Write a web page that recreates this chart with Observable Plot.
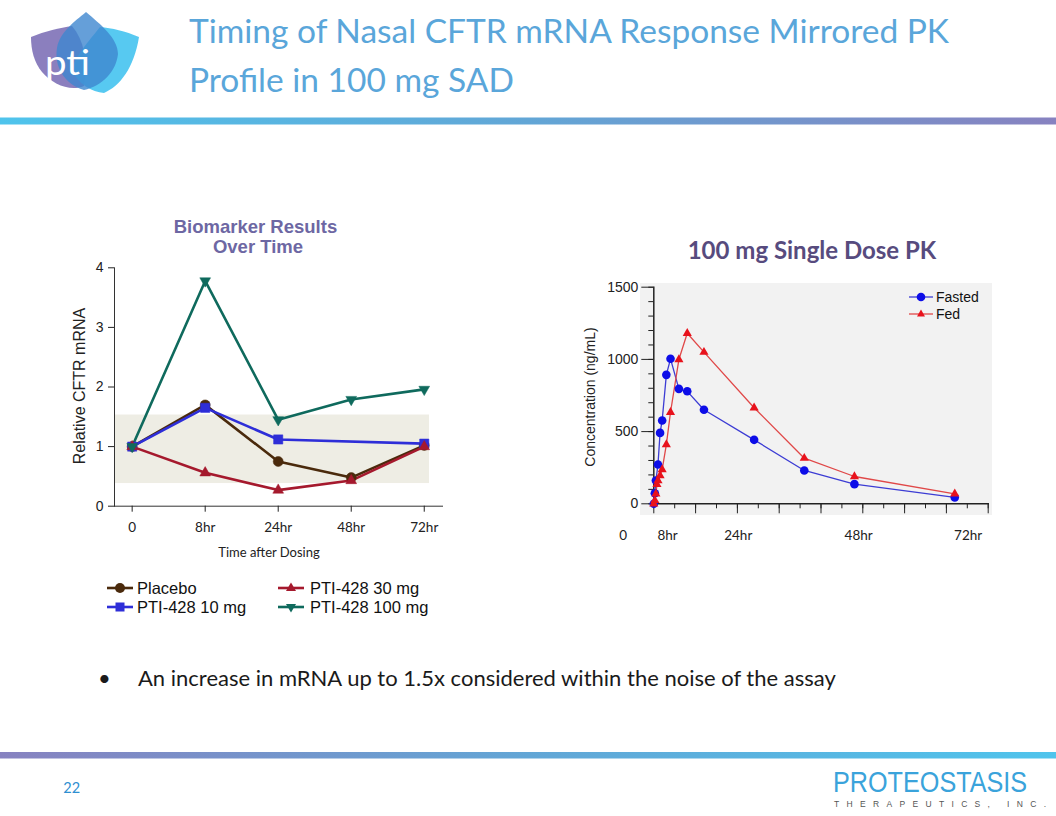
<!DOCTYPE html>
<html><head><meta charset="utf-8">
<script src="https://cdn.jsdelivr.net/npm/d3@7"></script>
<script src="https://cdn.jsdelivr.net/npm/@observablehq/plot@0.6"></script>
<style>
body{margin:0;background:#fff;}
#slide{position:relative;width:1056px;height:816px;overflow:hidden;background:#fff;}
.abs{position:absolute;}
#overlay{position:absolute;left:0;top:0;z-index:2;pointer-events:none;}
</style></head><body>
<div id="slide">
  <div id="bio" class="abs" style="left:60px;top:255px;"></div>
  <div id="pk" class="abs" style="left:640px;top:283px;"></div>
</div>
<script>
// ---------- Data: biomarker (left chart) ----------
const bioTimes = ["0", "8hr", "24hr", "48hr", "72hr"];
const placebo  = [1.00, 1.70, 0.75, 0.48, 1.02];
const pti10    = [1.00, 1.65, 1.12, null, 1.05];
const pti30    = [1.00, 0.56, 0.27, 0.43, 1.00];
const pti100   = [1.00, 3.78, 1.45, 1.79, 1.96];
const bioSeriesNames = ["Placebo", "PTI-428 10 mg", "PTI-428 30 mg", "PTI-428 100 mg"];
const noiseBand = [0.38, 1.53];
const bioYTicks = [0, 1, 2, 3, 4];

// ---------- Data: PK (right chart) ----------
const fastedHours = [0, 0.25, 0.5, 1, 1.5, 2, 3, 4, 6, 8, 12, 24, 36, 48, 72];
const fastedConc  = [0, 73, 161, 272, 491, 577, 893, 1004, 796, 779, 651, 443, 231, 136, 44];
const fedHours    = [0, 0.25, 0.5, 0.75, 1, 1.5, 2, 3, 4, 6, 8, 12, 24, 36, 48, 72];
const fedConc     = [0, 23, 69, 134, 161, 196, 237, 410, 634, 999, 1181, 1050, 665, 316, 189, 69];
const pkTickLabels = ["0", "8hr", "24hr", "48hr", "72hr"];
const pkTickPos    = [-7.3, 3.3, 20.2, 49, 75.2];
const pkYMajor = [0, 500, 1000, 1500];

// ---------- styles ----------
const bioColors = {"Placebo": "#4a2a0c", "PTI-428 10 mg": "#2e2ed8", "PTI-428 30 mg": "#a5192d", "PTI-428 100 mg": "#0f6a5d"};
const sqrt3 = Math.sqrt(3);
const triangleDown = {draw(ctx, size) {
  const y = -Math.sqrt(size / (sqrt3 * 3));
  ctx.moveTo(0, -y * 2); ctx.lineTo(-sqrt3 * y, y); ctx.lineTo(sqrt3 * y, y); ctx.closePath();
}};
const bioSymbols = {"Placebo": ["circle", 5], "PTI-428 10 mg": ["square", 5.2], "PTI-428 30 mg": ["triangle", 4.0], "PTI-428 100 mg": [triangleDown, 4.0]};

const bioValues = [placebo, pti10, pti30, pti100];
const bioRows = [];
bioSeriesNames.forEach((s, k) => bioValues[k].forEach((v, i) => { if (v != null) bioRows.push({s, i, v}); }));

const bioMarks = [
  Plot.rect([noiseBand], {y1: d => d[0], y2: d => d[1], fill: "#eeede4", insetLeft: 1, insetRight: 13}),
  Plot.frame({anchor: "left", stroke: "#333"}),
  Plot.frame({anchor: "bottom", stroke: "#333"}),
  Plot.axisY({ticks: bioYTicks, tickFormat: d => String(d), tickSize: 6, tickPadding: 5, fontSize: 14, label: null}),
  Plot.axisX({ticks: [0, 1, 2, 3, 4], tickFormat: i => bioTimes[i], tickSize: 6, tickPadding: 10, fontSize: 13.5, fontFamily: "Lato", label: null}),
];
for (const s of bioSeriesNames) {
  const rows = bioRows.filter(d => d.s === s);
  bioMarks.push(Plot.line(rows, {x: "i", y: "v", stroke: bioColors[s], strokeWidth: 2.6}));
}
for (const s of bioSeriesNames) {
  const rows = bioRows.filter(d => d.s === s);
  bioMarks.push(Plot.dot(rows, {x: "i", y: "v", fill: bioColors[s], stroke: bioColors[s], strokeWidth: 0.5, symbol: bioSymbols[s][0], r: bioSymbols[s][1]}));
}

const bio = Plot.plot({
  width: 400, height: 310,
  marginLeft: 54, marginRight: 18, marginTop: 12.3, marginBottom: 59.3,
  x: {domain: [-0.242, 4.25]},
  y: {domain: [0, 4]},
  style: {overflow: "visible", fontFamily: "'Liberation Sans', Arial, sans-serif", color: "#222", background: "transparent"},
  marks: bioMarks
});
document.getElementById("bio").appendChild(bio);

// ---------- PK plot ----------
const fasted = fastedHours.map((h, i) => ({h, c: fastedConc[i]}));
const fed = fedHours.map((h, i) => ({h, c: fedConc[i]}));
const minorY = d3.range(0, 1501, 100);
const minorX = d3.range(0, 81, 5);
const majorX = d3.range(0, 81, 10);

const pk = Plot.plot({
  width: 352, height: 232,
  marginLeft: 13.3, marginRight: 4.3, marginTop: 3.7, marginBottom: 11.7,
  x: {domain: [0, 80]},
  y: {domain: [0, 1500]},
  style: {overflow: "visible", background: "#f2f2f2", fontFamily: "'Liberation Sans', Arial, sans-serif", color: "#222"},
  marks: [
    Plot.axisY({ticks: minorY, tickSize: 5, tickFormat: () => "", label: null}),
    Plot.axisY({ticks: pkYMajor, tickFormat: d => String(d), tickSize: 12, tickPadding: 3.5, fontSize: 14, label: null}),
    Plot.axisX({ticks: minorX, tickSize: 5, tickFormat: () => "", label: null}),
    Plot.axisX({ticks: majorX, tickSize: 10, tickFormat: () => "", label: null}),
    Plot.axisX({ticks: pkTickPos, tickSize: 0, tickPadding: 27, tickFormat: d => pkTickLabels[pkTickPos.indexOf(d)], fontSize: 13.5, fontFamily: "Lato", label: null}),
    Plot.frame({anchor: "left", stroke: "#222", strokeWidth: 1.5}),
    Plot.frame({anchor: "bottom", stroke: "#222", strokeWidth: 1.5}),
    Plot.line(fasted, {x: "h", y: "c", stroke: "#3c3cd4", strokeWidth: 1.3}),
    Plot.line(fed, {x: "h", y: "c", stroke: "#e04848", strokeWidth: 1.3}),
    Plot.dot(fasted, {x: "h", y: "c", fill: "#0d0de8", r: 4.3}),
    Plot.dot(fed, {x: "h", y: "c", fill: "#e8121c", symbol: "triangle", r: 3.4}),
  ]
});
document.getElementById("pk").appendChild(pk);

// ---------- Static slide decoration & text ----------
const ARIAL = "'Liberation Sans', Arial, sans-serif";
const overlay = `
<svg id="overlay" width="1056" height="816" xmlns="http://www.w3.org/2000/svg">
  <defs>
    <linearGradient id="gTop" x1="0" x2="1" y1="0" y2="0"><stop offset="0" stop-color="#4fc4ec"/><stop offset="0.5" stop-color="#62a6d6"/><stop offset="1" stop-color="#8782c0"/></linearGradient>
    <linearGradient id="gBot" x1="0" x2="1" y1="0" y2="0"><stop offset="0" stop-color="#8782c0"/><stop offset="0.5" stop-color="#62a6d6"/><stop offset="1" stop-color="#4fc4ec"/></linearGradient>
  </defs>
  <rect x="0" y="117.5" width="1056" height="7" fill="url(#gTop)"/>
  <rect x="0" y="752" width="1056" height="6.5" fill="url(#gBot)"/>
  <!-- pti logo -->
  <g>
    <path d="M31,37 C45,31 60,28 72,26 C84,40 88,60 84,86 C70,92 52,84 42,72 C34,62 31,50 31,37 Z" fill="#8578bb" opacity="0.95"/>
    <path d="M139,37 C125,31 112,28 100,27 C88,42 74,58 72,70 C78,84 92,92 104,93 C120,86 134,68 139,37 Z" fill="#45c3f0" opacity="0.9"/>
    <path d="M86,12 C74,22 60,32 57,48 C54,66 64,84 84,90 C102,86 116,72 118,54 C118,38 100,24 86,12 Z" fill="#3f87cf" opacity="0.8"/>
    <text x="45" y="75" font-family="Lato" font-size="34" fill="#fff" textLength="45" lengthAdjust="spacingAndGlyphs">pti</text>
  </g>
  <!-- slide title -->
  <text font-family="Lato" font-size="33.5" fill="#5aa6da">
    <tspan x="189" y="43.3">Timing of Nasal CFTR mRNA Response Mirrored PK</tspan>
    <tspan x="189" y="92">Profile in 100 mg SAD</tspan>
  </text>
  <!-- left chart title -->
  <text font-family="${ARIAL}" font-weight="bold" font-size="18.5" fill="#6d67a3" text-anchor="middle">
    <tspan x="258" y="232.7">Biomarker Results</tspan>
    <tspan x="258" y="253.3">Over Time</tspan>
  </text>
  <text transform="translate(79,386) rotate(-90)" font-family="${ARIAL}" font-size="16" fill="#222" text-anchor="middle" dominant-baseline="central">Relative CFTR mRNA</text>
  <text x="269" y="557" font-family="Lato" font-size="13" fill="#222" text-anchor="middle">Time after Dosing</text>
  <!-- left legend -->
  <g font-family="${ARIAL}" font-size="16.5" fill="#111">
    <line x1="107" x2="133" y1="588" y2="588" stroke="${bioColors["Placebo"]}" stroke-width="2.6"/>
    <circle cx="120" cy="588" r="5" fill="${bioColors["Placebo"]}"/>
    <text x="137" y="594">Placebo</text>
    <line x1="107" x2="133" y1="607" y2="607" stroke="${bioColors["PTI-428 10 mg"]}" stroke-width="2.6"/>
    <rect x="115.5" y="602.5" width="9" height="9" fill="${bioColors["PTI-428 10 mg"]}"/>
    <text x="137" y="613">PTI-428 10 mg</text>
    <line x1="278" x2="304" y1="588" y2="588" stroke="${bioColors["PTI-428 30 mg"]}" stroke-width="2.6"/>
    <path d="M291,582.5 L296,591 L286,591 Z" fill="${bioColors["PTI-428 30 mg"]}"/>
    <text x="310" y="594">PTI-428 30 mg</text>
    <line x1="278" x2="304" y1="607" y2="607" stroke="${bioColors["PTI-428 100 mg"]}" stroke-width="2.6"/>
    <path d="M291,612.5 L296,604 L286,604 Z" fill="${bioColors["PTI-428 100 mg"]}"/>
    <text x="310" y="613">PTI-428 100 mg</text>
  </g>
  <!-- right chart title & labels -->
  <text x="812" y="259.3" font-family="Lato" font-weight="bold" font-size="24" fill="#574b7e" text-anchor="middle">100 mg Single Dose PK</text>
  <text transform="translate(590,397) rotate(-90)" font-family="${ARIAL}" font-size="14" fill="#222" text-anchor="middle" dominant-baseline="central">Concentration (ng/mL)</text>
  <g font-family="${ARIAL}" font-size="14" fill="#111">
    <line x1="909" x2="933" y1="297" y2="297" stroke="#3c3cd4" stroke-width="1.3"/>
    <circle cx="921" cy="297" r="4.3" fill="#0d0de8"/>
    <text x="936" y="302">Fasted</text>
    <line x1="909" x2="933" y1="314" y2="314" stroke="#e04848" stroke-width="1.3"/>
    <path d="M921,309.5 L925,316.5 L917,316.5 Z" fill="#e8121c"/>
    <text x="936" y="319">Fed</text>
  </g>
  <!-- bullet -->
  <text font-family="Lato" font-size="22" fill="#1a1a1a">
    <tspan x="98" y="686">•</tspan>
    <tspan x="138" y="686">An increase in mRNA up to 1.5x considered within the noise of the assay</tspan>
  </text>
  <!-- footer -->
  <text x="63.3" y="793.3" font-family="Lato" font-size="14.5" fill="#2e8fd1">22</text>
  <text transform="translate(833,791.7) scale(1,1.2)" font-family="${ARIAL}" font-size="25.2" fill="#3aa3db">PROTEOSTASIS</text>
  <text x="834" y="806.7" font-family="${ARIAL}" font-size="8.5" fill="#555" textLength="212" lengthAdjust="spacing">THERAPEUTICS, INC.</text>
</svg>`;
document.getElementById("slide").insertAdjacentHTML("beforeend", overlay);
</script>
</body></html>
